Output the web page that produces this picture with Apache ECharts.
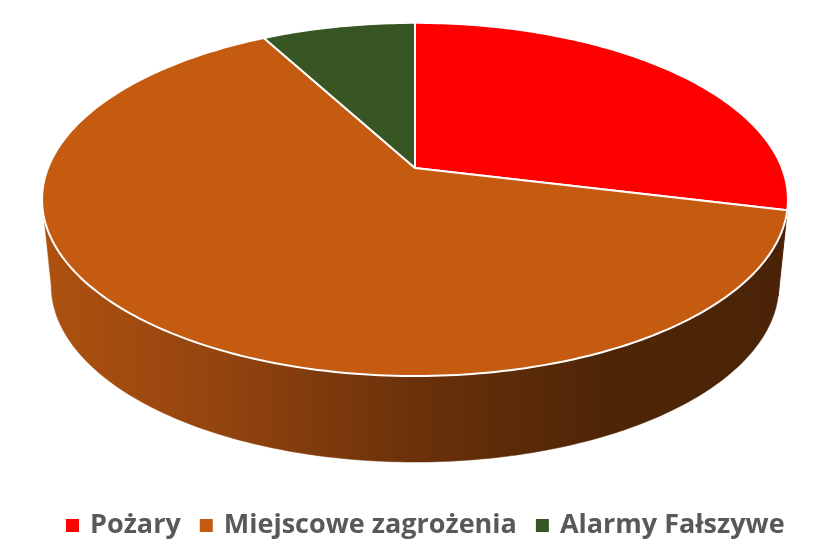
<!DOCTYPE html>
<html>
<head>
<meta charset="utf-8">
<title>Zdarzenia</title>
<script src="https://cdn.jsdelivr.net/npm/echarts@6/dist/echarts.min.js"></script>
<style>
  html, body { margin: 0; padding: 0; background: #fff; }
  #main { width: 826px; height: 555px; }
</style>
</head>
<body>
<div id="main"></div>
<script>
// dane
var categories = ["Pożary", "Miejscowe zagrożenia", "Alarmy Fałszywe"];
var values = [28.8, 63.3, 7.9];
var colors = ["#FF0000", "#C55A11", "#375623"];

// geometria "3D" (elipsa z lekka perspektywa)
var cx = 415, cy = 168, rx = 367, ry = 171, persp = 0.178;
var bx = 358, by = 171, bcy = 254;

var total = values.reduce(function (a, b) { return a + b; }, 0);

function rim(a, x0, y0, rX, rY) {
  var k = 1 + persp * Math.cos(a);
  return [x0 + rX * Math.sin(a) / k, y0 - rY * Math.cos(a) / k];
}

function arcPoints(a1, a2, x0, y0, rX, rY) {
  var n = Math.max(2, Math.ceil((a2 - a1) * 180 / Math.PI));
  var pts = [];
  for (var j = 0; j <= n; j++) {
    pts.push(rim(a1 + (a2 - a1) * j / n, x0, y0, rX, rY));
  }
  return pts;
}

var sideFill = [
  "#7a0000",
  {
    type: "linear", x: 42, y: 0, x2: 789, y2: 0, global: true,
    colorStops: [
      { offset: 0, color: "#ae5210" },
      { offset: 0.25, color: "#92430e" },
      { offset: 0.5, color: "#6b310a" },
      { offset: 0.75, color: "#4f2507" },
      { offset: 1, color: "#4a2306" }
    ]
  },
  "#1e3012"
];

function renderSlice(params, api) {
  var i = params.seriesIndex;
  var before = 0;
  for (var k = 0; k < i; k++) before += values[k];
  var a1 = 2 * Math.PI * before / total;
  var a2 = a1 + 2 * Math.PI * api.value(0) / total;

  var children = [];
  // sciana boczna - tylko przednia czesc
  var fa = Math.acos(-persp), fb = 2 * Math.PI - fa;
  var w1 = Math.max(a1, fa), w2 = Math.min(a2, fb);
  if (w2 > w1) {
    var topPts = arcPoints(w1, w2, cx, cy, rx, ry);
    var botPts = arcPoints(w1, w2, cx, bcy, bx, by).reverse();
    children.push({
      type: "polygon",
      z2: 1,
      shape: { points: topPts.concat(botPts) },
      style: { fill: sideFill[i], stroke: sideFill[i], lineWidth: 0.5 }
    });
  }
  // gorna powierzchnia
  var pts = [[cx, cy]].concat(arcPoints(a1, a2, cx, cy, rx, ry));
  children.push({
    type: "polygon",
    z2: 10,
    shape: { points: pts },
    style: { fill: colors[i], stroke: "#ffffff", lineWidth: 2, lineJoin: "round" }
  });
  return { type: "group", children: children };
}

var myChart = echarts.init(document.getElementById("main"));
myChart.setOption({
  animation: false,
  color: colors,
  legend: {
    data: categories,
    left: 61,
    top: 507,
    icon: "rect",
    itemWidth: 13,
    itemHeight: 13,
    itemGap: 19,
    textStyle: {
      fontFamily: "Open Sans",
      fontWeight: "bold",
      fontSize: 27,
      color: "#595959",
      padding: [0, 0, 0, 6]
    }
  },
  series: categories.map(function (name, i) {
    return {
      type: "custom",
      name: name,
      coordinateSystem: "none",
      renderItem: renderSlice,
      itemStyle: { color: colors[i] },
      data: [values[i]]
    };
  })
});
window.onresize = function () { myChart.resize(); };
</script>
</body>
</html>
